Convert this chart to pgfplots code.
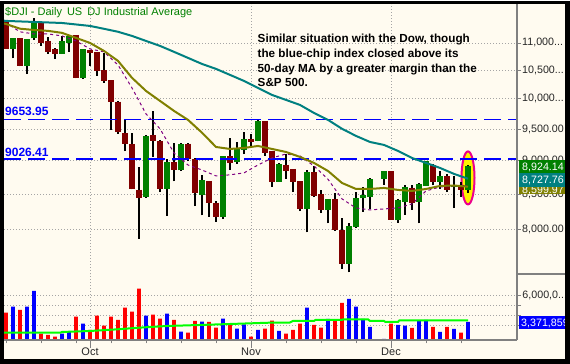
\documentclass[border=0pt]{standalone}
\usepackage{fontspec}
\setmainfont{Liberation Sans}
\usepackage{pgfplots}
\pgfplotsset{compat=1.18}
\definecolor{cream}{RGB}{255,251,240}
\definecolor{dkred}{RGB}{128,0,0}
\definecolor{dkgreen}{RGB}{0,128,0}
\definecolor{tealc}{RGB}{0,128,128}
\definecolor{olivec}{RGB}{128,128,0}
\definecolor{purp}{RGB}{128,0,128}
\definecolor{vgreen}{RGB}{0,255,0}
\definecolor{gridgray}{RGB}{165,165,165}
\definecolor{axgray}{RGB}{128,128,128}
\newcommand\dd{{.}{.}{.}}
\begin{document}
\begin{tikzpicture}[x=1pt,y=1pt]
\fill[cream] (0,0) rectangle (570,363);
% ---------------- price panel ----------------
\begin{axis}[at={(4pt,90pt)}, anchor=south west, scale only axis,
  width=513pt, height=270pt,
  xmin=-0.2857, xmax=73, ymode=log, ymin=7422, ymax=11756,
  axis line style={draw=none},
  ytick={8000,8500,9000,9500,10000,10500,11000},
  yticklabels={{8,000.00},{8,500.00},{9,000.00},{9,500.00},{10,000\dd},{10,500\dd},{11,000\dd}},
  yminorticks=false, ytick pos=upper, yticklabel pos=upper,
  tick align=outside, major tick length=4pt,
  ytick style={axgray, line width=0.8pt},
  yticklabel style={font=\fontsize{10.7}{12}\selectfont, anchor=west, inner sep=0pt, xshift=1pt, text=black!85},
  xtick={12,35,55}, xticklabels={}, xtick style={draw=none},
  xmajorgrids, ymajorgrids,
  grid style={gridgray, dash pattern=on 1pt off 2pt, line width=0.8pt},
  unbounded coords=jump]
% highlight
\draw[magenta, fill=yellow, line width=2pt] (axis cs:66,8740) ellipse [x radius=6.5pt, y radius=26.5pt];
% wicks
\addplot[black, line width=1.8pt, forget plot] coordinates {
(0,10900)(0,11422)(0,nan) (1,10715)(1,11100)(1,nan) (2,10570)(2,11090)(2,nan) (3,10430)(3,11075)(3,nan)
(4,11060)(4,11470)(4,nan) (5,10944)(5,11390)(5,nan) (6,10800)(6,11120)(6,nan) (7,10710)(7,10900)(7,nan)
(8,10790)(8,11130)(8,nan) (9,10840)(9,11140)(9,nan) (10,10355)(10,11155)(10,nan) (11,10350)(11,10890)(11,nan)
(12,10577)(12,10875)(12,nan) (13,10400)(13,10835)(13,nan) (14,10280)(14,10820)(14,nan) (15,9490)(15,10330)(15,nan)
(16,9420)(16,9970)(16,nan) (17,9150)(17,9660)(17,nan) (18,8570)(18,9430)(18,nan) (19,7882)(19,8900)(19,nan)
(20,8450)(20,9400)(20,nan) (21,9059)(21,9794)(21,nan) (22,8530)(22,9320)(22,nan) (23,8197)(23,9020)(23,nan)
(24,8690)(24,9270)(24,nan) (25,8840)(25,9280)(25,nan) (26,8990)(26,9280)(26,nan) (27,8330)(27,9040)(27,nan)
(28,8200)(28,8790)(28,nan) (29,8180)(29,8700)(29,nan) (30,8110)(30,8410)(30,nan) (31,8150)(31,9080)(31,nan)
(32,8860)(32,9360)(32,nan) (33,8950)(33,9290)(33,nan) (34,9100)(34,9457)(34,nan) (35,9230)(35,9411)(35,nan)
(36,9300)(36,9654)(36,nan) (37,9073)(37,9635)(37,nan) (38,8610)(38,9150)(38,nan) (39,8685)(39,8960)(39,nan)
(40,8730)(40,9110)(40,nan) (41,8530)(41,8880)(41,nan) (42,8260)(42,8700)(42,nan) (43,7965)(43,8855)(43,nan)
(44,8460)(44,8920)(44,nan) (45,8230)(45,8560)(45,nan) (46,8090)(46,8430)(46,nan) (47,7990)(47,8515)(47,nan)
(48,7490)(48,8160)(48,nan) (49,7440)(49,8100)(49,nan) (50,8030)(50,8530)(50,nan) (51,8250)(51,8600)(51,nan)
(52,8290)(52,8740)(52,nan) (54,8640)(54,8840)(54,nan) (55,8140)(55,8840)(55,nan) (56,8100)(56,8430)(56,nan)
(57,8210)(57,8630)(57,nan) (58,8280)(58,8630)(58,nan) (59,8090)(59,8660)(59,nan) (60,8620)(60,9000)(60,nan)
(61,8630)(61,8950)(61,nan) (62,8580)(62,8850)(62,nan) (63,8530)(63,8800)(63,nan) (64,8300)(64,8770)(64,nan)
(65,8460)(65,8680)(65,nan) (66,8520)(66,8940)(66,nan)};
% red bodies
\addplot[dkred, line width=5.7pt, forget plot] coordinates {
(0,11420)(0,10895)(0,nan) (2,11088)(2,10580)(2,nan) (5,11375)(5,11006)(5,nan) (6,11037)(6,10827)(6,nan)
(7,10882)(7,10800)(7,nan) (10,11150)(10,10360)(10,nan) (12,10870)(12,10820)(12,nan) (13,10832)(13,10488)(13,nan)
(14,10506)(14,10310)(14,nan) (15,10322)(15,9955)(15,nan) (16,9955)(16,9447)(16,nan) (17,9437)(17,9258)(17,nan)
(18,9261)(18,8579)(18,nan) (19,8568)(19,8451)(19,nan) (21,9400)(21,9310)(21,nan) (22,9310)(22,8578)(22,nan)
(24,8974)(24,8852)(24,nan) (26,9266)(26,9033)(26,nan) (27,9033)(27,8519)(27,nan) (29,8695)(29,8380)(29,nan)
(30,8378)(30,8175)(30,nan) (32,9073)(32,8970)(32,nan) (35,9345)(35,9296)(35,nan) (37,9631)(37,9125)(37,nan)
(38,9151)(38,8685)(38,nan) (40,8940)(40,8844)(40,nan) (41,8875)(41,8685)(41,nan) (42,8694)(42,8283)(42,nan)
(44,8830)(44,8475)(44,nan) (45,8497)(45,8274)(45,nan) (47,8425)(47,7997)(47,nan) (48,7995)(48,7550)(48,nan)
(55,8840)(55,8140)(55,nan) (58,8595)(58,8370)(58,nan) (61,8930)(61,8680)(61,nan) (63,8770)(63,8565)(63,nan)
(65,8640)(65,8565)(65,nan)};
% green bodies
\addplot[dkgreen, line width=5.7pt, forget plot] coordinates {
(1,10895)(1,11088)(1,nan) (3,10577)(3,11070)(3,nan) (4,11088)(4,11388)(4,nan) (8,10800)(8,11037)(8,nan)
(9,11006)(9,11132)(9,nan) (11,10360)(11,10882)(11,nan) (20,8462)(20,9387)(20,nan) (23,8577)(23,8979)(23,nan)
(25,8852)(25,9265)(25,nan) (28,8490)(28,8710)(28,nan) (31,8175)(31,9073)(31,nan) (33,8985)(33,9180)(33,nan)
(34,9170)(34,9345)(34,nan) (36,9308)(36,9631)(36,nan) (39,8685)(39,8944)(39,nan) (43,8283)(43,8835)(43,nan)
(46,8273)(46,8425)(46,nan) (49,7550)(49,8046)(49,nan) (50,8040)(50,8445)(50,nan) (51,8440)(51,8486)(51,nan)
(52,8464)(52,8727)(52,nan) (54,8727)(54,8840)(54,nan) (56,8130)(56,8420)(56,nan) (57,8395)(57,8605)(57,nan)
(59,8395)(59,8650)(59,nan) (60,8620)(60,8990)(60,nan) (62,8680)(62,8770)(62,nan) (64,8600)(64,8640)(64,nan)
(66,8565)(66,8924)(66,nan)};
% support / resistance lines
\addplot[blue, line width=1.3pt, dash pattern=on 17pt off 7pt, forget plot] coordinates {(-0.2857,9653.95) (73,9653.95)};
\addplot[blue, line width=1.3pt, dash pattern=on 17pt off 7pt, forget plot] coordinates {(-0.2857,9026.41) (73,9026.41)};
% 10-day MA
\addplot[purp, line width=1pt, dash pattern=on 3pt off 3pt, forget plot] coordinates {
(0.6,11330)(2,11210)(4,11170)(6,11170)(8,11132)(10,11037)(12,10888)(14,10834)(16,10595)(18,10188)
(20,9747)(22,9503)(24,9120)(26,8935)(28,8859)(30,8770)(32,8786)(34,8815)(36,8935)(38,9042)
(40,9104)(42,9073)(44,8920)(46,8720)(48,8433)(50,8304)(52,8276)(54,8290)(56,8304)(58,8361)
(60,8548)(62,8606)(64,8621)(66,8621)};
% 20-day MA
\addplot[olivec, line width=2pt, forget plot] coordinates {
(-0.3,11370)(0,11360)(2,11270)(4,11245)(6,11228)(8,11190)(10,11095)(12,11000)(14,10851)(16,10668)(18,10365)
(20,10136)(22,9965)(24,9797)(26,9648)(28,9440)(30,9213)(32,9182)(34,9198)(36,9229)(38,9182)
(40,9135)(42,9058)(44,8966)(46,8844)(48,8665)(50,8577)(52,8577)(54,8592)(56,8563)(58,8548)
(60,8577)(62,8621)(64,8628)(66,8610)};
% 50-day MA
\addplot[tealc, line width=2pt, forget plot] coordinates {
(-0.3,11425)(0,11420)(4,11400)(8,11380)(12,11323)(14,11268)(16,11211)(18,11132)(20,11037)(22,10944)
(24,10834)(26,10723)(28,10613)(30,10524)(32,10417)(34,10310)(36,10188)(38,10067)(40,9982)(42,9897)
(44,9763)(46,9648)(48,9503)(50,9388)(52,9292)(54,9245)(56,9151)(58,9042)(60,8966)(62,8890)
(64,8800)(66,8728)};
\end{axis}
% ---------------- volume panel ----------------
\begin{axis}[at={(4pt,24pt)}, anchor=south west, scale only axis,
  width=513pt, height=66pt,
  xmin=-0.2857, xmax=73, ymin=1.5, ymax=8.1,
  axis line style={draw=none},
  ytick={3,4,5,6}, yticklabels={,,,{6,000,0\dd}},
  ytick pos=upper, yticklabel pos=upper, tick align=outside,
  ytick style={axgray, line width=0.8pt, /pgfplots/major tick length=4pt},
  yticklabel style={font=\fontsize{10.7}{12}\selectfont, anchor=west, inner sep=0pt, xshift=1pt, text=black!85},
  xtick={12,35,55}, xticklabels={Oct,Nov,Dec},
  minor xtick={0,5,10,15,20,25,30,40,45,50,60,65},
  xtick pos=lower,
  xtick style={axgray, line width=1pt, /pgfplots/major tick length=8pt, /pgfplots/minor tick length=3.5pt},
  xticklabel style={font=\fontsize{11}{13}\selectfont, text=black!85},
  xmajorgrids, ymajorgrids,
  grid style={gridgray, dash pattern=on 1pt off 2pt, line width=0.8pt}]
\addplot[ybar, bar width=3.8pt, bar shift=0pt, fill=red, draw=none, forget plot] coordinates {
(0,4.23)(2,4.5)(5,2.13)(6,2.0)(7,1.83)(10,3.83)(12,2.5)(13,3.93)(14,2.93)(15,3.83)(16,3.5)(17,4.73)
(18,4.33)(19,6.63)(21,4.03)(22,3.63)(24,3.5)(26,2.23)(27,3.4)(29,3.3)(30,2.73)(32,3.13)(35,1.83)
(37,2.63)(38,3.43)(40,2.13)(41,2.5)(42,3.13)(44,3.0)(45,2.73)(47,3.4)(48,5.2)(55,3.13)(58,2.7)
(61,2.8)(63,2.8)(65,2.23)};
\addplot[ybar, bar width=3.8pt, bar shift=0pt, fill=blue, draw=none, forget plot] coordinates {
(1,4.83)(3,4.83)(4,6.4)(8,2.13)(9,2.3)(11,3.13)(20,3.93)(23,4.13)(25,2.33)(28,3.33)(31,3.63)(33,2.63)
(34,3.07)(36,2.5)(39,2.4)(43,4.73)(46,3.6)(49,5.6)(50,4.83)(51,3.6)(52,2.8)(54,1.6)(56,3.0)(57,2.93)
(59,3.4)(60,3.5)(62,2.3)(64,2.6)(66,3.3)};
\addplot[vgreen, line width=2pt, forget plot] coordinates {
(-0.3,2.23)(7.8,2.23)(8.0,2.3)(12,2.4)(16,2.57)(19,2.73)(23,2.9)(27.7,3.0)(33.4,3.13)(37.7,3.23)
(40.5,3.23)(41,3.4)(44,3.4)(44.2,3.5)(48,3.5)(48.2,3.57)(51.7,3.57)(52,3.4)(54,3.4)(54.2,3.3)
(56,3.3)(56.2,3.47)(66,3.47)};
\end{axis}
% frame lines
\draw[axgray, line width=1.3pt] (517,24) -- (517,360);
\draw[axgray, line width=1.3pt] (4,24) -- (517,24);
\draw[axgray, line width=1.3pt] (517,90) -- (565,90);
% texts
\node[anchor=base west, inner sep=0pt, text=dkgreen, font=\fontsize{11}{13}\selectfont] at (5,348) {\$DJI - Daily\hspace{5pt}US\hspace{5pt}DJ Industrial Average};
\node[anchor=base west, inner sep=0pt, text=blue, font=\fontsize{12}{14}\selectfont\bfseries] at (5,248) {9653.95};
\node[anchor=base west, inner sep=0pt, text=blue, font=\fontsize{12}{14}\selectfont\bfseries] at (5,207.5) {9026.41};
\begin{scope}[every node/.style={anchor=base west, inner sep=0pt, font=\fontsize{11.7}{14}\selectfont\bfseries}]
\node at (257.5,321.5) {Similar situation with the Dow, though};
\node at (257.5,306.7) {the blue-chip index closed above its};
\node at (257.5,291.9) {50-day MA by a greater margin than the};
\node at (257.5,277.1) {S\&P 500.};
\end{scope}
% value boxes
\begin{scope}
\clip (519,170) rectangle (570,177);
\fill[olivec] (519,170) rectangle (570,177);
\node[anchor=base west, inner sep=0pt, text=white, font=\fontsize{10.7}{12}\selectfont] at (522,170.5) {8,599.97};
\end{scope}
\fill[tealc] (519,177) rectangle (570,191);
\node[anchor=base west, inner sep=0pt, text=white, font=\fontsize{10.7}{12}\selectfont] at (522,180) {8,727.76};
\fill[dkgreen] (519,191) rectangle (570,204);
\node[anchor=base west, inner sep=0pt, text=white, font=\fontsize{10.7}{12}\selectfont] at (522,193.5) {8,924.14};
\fill[blue] (519,35) rectangle (570,48);
\node[anchor=base west, inner sep=0pt, text=white, font=\fontsize{10.7}{12}\selectfont] at (521,37.5) {3,371,859};
% black frame
\fill[black] (0,0) rectangle (4,363);
\fill[black] (565,0) rectangle (570,363);
\fill[black] (0,360) rectangle (570,363);
\fill[black] (0,0) rectangle (570,5);
\end{tikzpicture}
\end{document}
